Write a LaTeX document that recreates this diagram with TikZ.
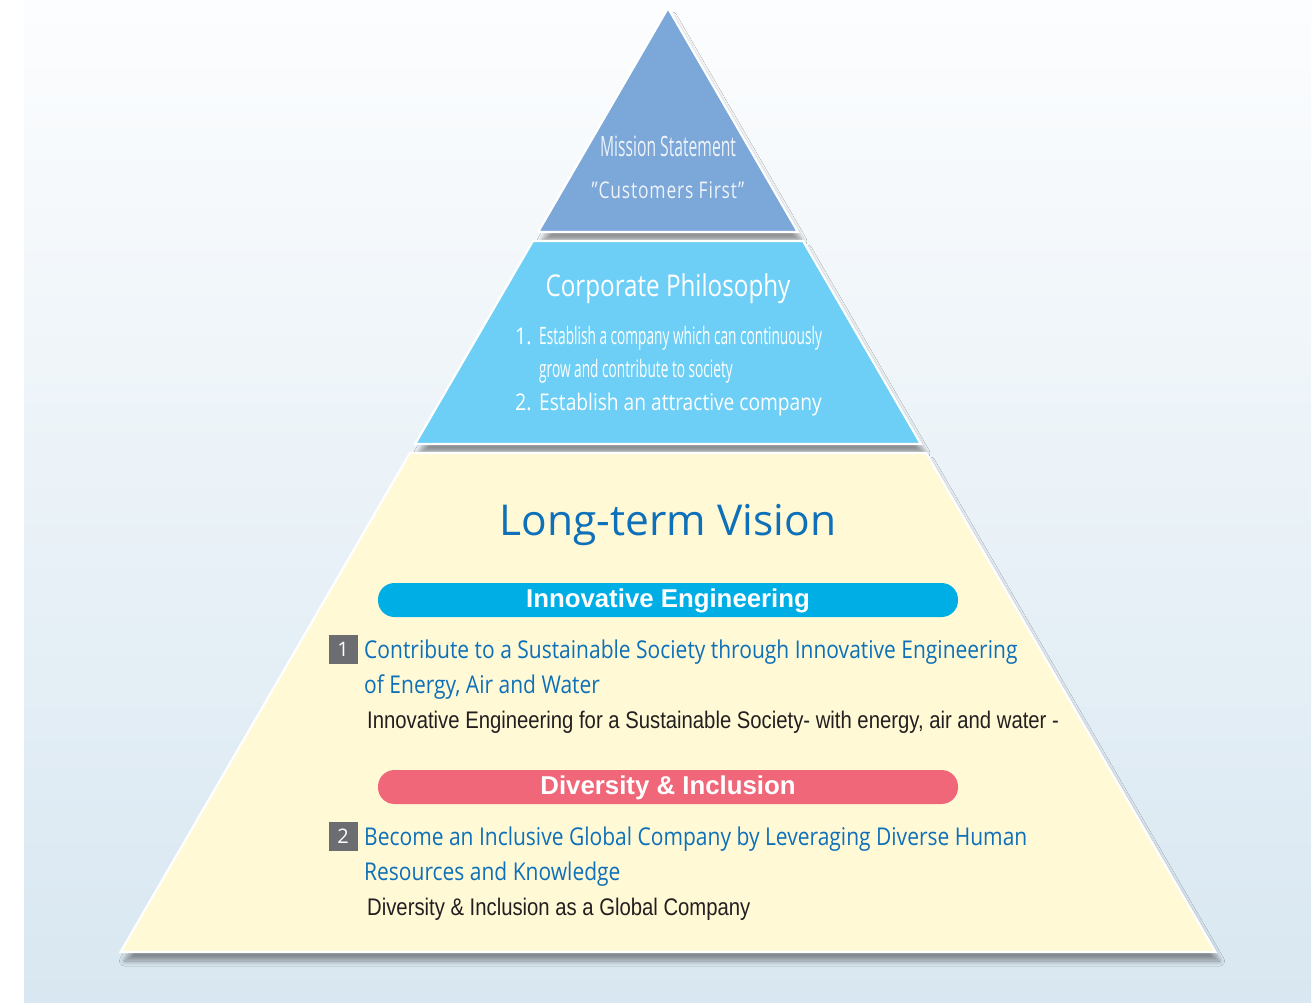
\documentclass[tikz,border=0pt]{standalone}
\usepackage{fontspec}
\usetikzlibrary{shadows.blur}
\setmainfont{Open Sans}
\newfontfamily\xcond[FakeStretch=0.57]{Open Sans}
\newfontfamily\cond[FakeStretch=0.857]{Open Sans}
\newfontfamily\hcond[FakeStretch=0.845]{Liberation Sans}
\newfontfamily\pillf[FakeStretch=1.0]{Liberation Sans Bold}
\definecolor{bgtop}{RGB}{252,253,254}
\definecolor{bgbot}{RGB}{216,231,241}
\definecolor{topband}{RGB}{124,167,217}
\definecolor{midband}{RGB}{110,207,246}
\definecolor{lowband}{RGB}{255,249,214}
\definecolor{vblue}{RGB}{14,112,184}
\definecolor{pillblue}{RGB}{0,174,230}
\definecolor{pillred}{RGB}{240,103,122}
\definecolor{numgrey}{RGB}{108,109,112}
\definecolor{bodytxt}{RGB}{35,31,32}
\definecolor{softwhite}{RGB}{238,243,250}
\tikzset{
  band/.style={draw=white, line width=2.2pt, line join=miter,
    blur shadow={shadow xshift=4pt, shadow yshift=-9pt, shadow blur radius=5pt,
      shadow blur steps=10, shadow opacity=40}},
  pill/.style={rounded corners=16.5pt, minimum width=580pt, minimum height=34pt,
    inner sep=0pt, text=white, text height=18pt, text depth=3pt,
    font=\pillf\fontsize{25.8}{30}\selectfont},
  numbox/.style={fill=numgrey, minimum width=29pt, minimum height=29pt, inner sep=0pt,
    text=white, font=\fontsize{20}{24}\selectfont},
  bluetxt/.style={anchor=base west, inner sep=0pt, text=vblue, font=\cond\fontsize{24.5}{30}\selectfont},
  blacktxt/.style={anchor=base west, inner sep=0pt, text=bodytxt, font=\hcond\fontsize{24}{30}\selectfont},
  wtxt/.style={inner sep=0pt, text=white}
}
\begin{document}
\begin{tikzpicture}[x=1pt,y=-1pt]
\useasboundingbox (0,0) rectangle (1316,1003);
\fill[white] (0,0) rectangle (1316,1003);
\shade[top color=bgtop, bottom color=bgbot] (24,0) rectangle (1311,1003);
% bands
\path[band, fill=topband] (668,8) -- (797.9,232) -- (538.1,232) -- cycle;
\path[band, fill=midband] (532.9,241) -- (803.1,241) -- (920.9,444) -- (415.1,444) -- cycle;
\path[band, fill=lowband] (409.9,453) -- (926.1,453) -- (1215.5,952) -- (120.5,952) -- cycle;
% mission
\node[wtxt, text=softwhite, anchor=base, font=\fontsize{28}{30}\selectfont\addfontfeature{FakeStretch=0.56}] (mission) at (668,157) {Mission Statement};
\node[wtxt, text=softwhite, anchor=base, font=\fontsize{23}{30}\selectfont] (cust) at (668,198) {\addfontfeature{LetterSpace=3.5,FakeStretch=0.76}”Customers First”};
% philosophy
\node[wtxt, anchor=base, font=\fontsize{30}{34}\selectfont\addfontfeature{FakeStretch=0.807}] (phil) at (668,296) {Corporate Philosophy};
\node[wtxt, anchor=base west, font=\cond\fontsize{23}{30}\selectfont] (p1) at (515,344) {1.};
\node[wtxt, anchor=base west, font=\xcond\fontsize{24}{30}\selectfont] (p1a) at (539,344) {Establish a company which can continuously};
\node[wtxt, anchor=base west, font=\xcond\fontsize{24}{30}\selectfont] (p1b) at (539,377) {grow and contribute to society};
\node[wtxt, anchor=base west, font=\cond\fontsize{23}{30}\selectfont] (p2) at (515,410) {2.};
\node[wtxt, anchor=base west, font=\fontsize{23}{30}\selectfont\addfontfeature{FakeStretch=0.833}] (p2a) at (539,410) {Establish an attractive company};
% vision
\node[inner sep=0pt, anchor=base, text=vblue, font=\fontsize{42.5}{48}\selectfont\addfontfeature{FakeStretch=1.0}] (vision) at (668,535) {Long-term Vision};
\node[pill, fill=pillblue] (ie) at (668,600) {Innovative Engineering};
\node[numbox] (n1) at (343,649.5) {1};
\node[bluetxt] (t1a) at (364,658) {Contribute to a Sustainable Society through Innovative Engineering};
\node[bluetxt] (t1b) at (364,693) {of Energy, Air and Water};
\node[blacktxt] (t1c) at (367,728) {Innovative Engineering for a Sustainable Society- with energy, air and water -};
\node[pill, fill=pillred] (di) at (668,787) {Diversity \& Inclusion};
\node[numbox] (n2) at (343,836.5) {2};
\node[bluetxt] (t2a) at (364,845) {Become an Inclusive Global Company by Leveraging Diverse Human};
\node[bluetxt] (t2b) at (364,880) {Resources and Knowledge};
\node[blacktxt] (t2c) at (367,915) {Diversity \& Inclusion as a Global Company};
\end{tikzpicture}
\end{document}
